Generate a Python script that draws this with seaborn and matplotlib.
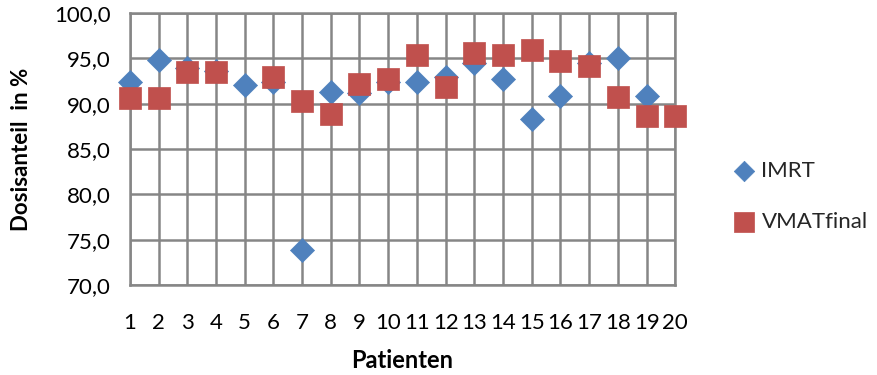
import numpy as np
import pandas as pd
import matplotlib
matplotlib.use("Agg")
import matplotlib.pyplot as plt
import seaborn as sns

patients = list(range(1, 21))
imrt = [92.4, 94.8, 93.9, 93.6, 92.1, 92.4, 73.9, 91.3, 91.2, 92.4,
        92.4, 93.0, 94.5, 92.7, 88.3, 90.9, 94.5, 95.1, 90.9, np.nan]
vmat = [90.6, 90.6, 93.5, 93.5, np.nan, 93.0, 90.3, 88.9, 92.2, 92.7,
        95.4, 91.8, 95.6, 95.4, 95.9, 94.7, 94.2, 90.7, 88.6, 88.6]
yticks = [70, 75, 80, 85, 90, 95, 100]

sns.set_theme(style="white")
plt.rcParams['font.family'] = ['Lato', 'DejaVu Sans']

fig = plt.figure(figsize=(8.77, 3.75), dpi=100)
ax = fig.add_axes([0.148, 0.24, 0.622, 0.725])

df_i = pd.DataFrame({"Patient": patients, "Wert": imrt})
df_v = pd.DataFrame({"Patient": patients, "Wert": vmat})

sns.scatterplot(data=df_i, x="Patient", y="Wert", ax=ax, marker="D", s=150,
                color="#4F81BD", edgecolor="#4F81BD", linewidth=0.5,
                label="IMRT", clip_on=False, zorder=3)
sns.scatterplot(data=df_v, x="Patient", y="Wert", ax=ax, marker="s", s=260,
                color="#C0504D", edgecolor="#C0504D", linewidth=0.5,
                label="VMATfinal", clip_on=False, zorder=4)

ax.set_xlim(1, 20)
ax.set_ylim(70, 100)
ax.set_xticks(patients)
ax.set_xticklabels([str(p) for p in patients])
ax.set_yticks(yticks)
ax.set_yticklabels([f"{v:.1f}".replace(".", ",") for v in yticks])
ax.grid(True, color="#868686", linewidth=1.8)
ax.set_axisbelow(True)
for sp in ax.spines.values():
    sp.set_color("#868686")
    sp.set_linewidth(1.8)
ax.tick_params(axis="x", labelsize=16, pad=20, length=0, colors="black")
ax.tick_params(axis="y", labelsize=16, pad=14, length=0, colors="black")
for lab in ax.get_xticklabels() + ax.get_yticklabels():
    lab.set_color("black")

ax.set_xlabel("Patienten", fontsize=17, fontweight="bold", labelpad=12, color="black")
ax.set_ylabel("Dosisanteil  in %", fontsize=16, fontweight="bold", labelpad=16, color="black")

leg = ax.legend(loc="center left", bbox_to_anchor=(1.105, 0.325), frameon=False,
                fontsize=16, handlelength=1.0, handletextpad=0.3, labelspacing=1.4,
                markerscale=0.85, borderaxespad=0, borderpad=0)
fig.savefig("out.png", dpi=100)
